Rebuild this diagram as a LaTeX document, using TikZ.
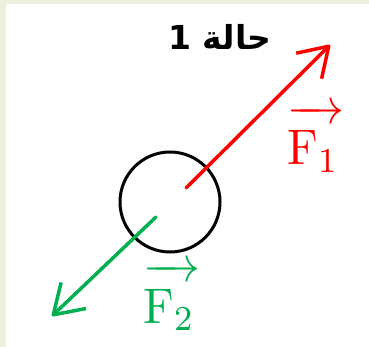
\documentclass[tikz,border=0pt]{standalone}
\usepackage{amsmath}
\usepackage{graphicx}
\usepackage{fontspec}
\usetikzlibrary{arrows.meta}
\newfontfamily\arabicfont[Script=Arabic]{DejaVu Sans}
\TeXXeTstate=1
\definecolor{forcered}{RGB}{255,0,0}
\definecolor{forcegreen}{RGB}{0,176,80}
\definecolor{framegreen}{RGB}{235,241,222}

\begin{document}
\begin{tikzpicture}[x=1pt, y=-1pt]

    % Define styles
    \tikzstyle{body} = [circle, draw=black, line width=3pt, minimum size=100pt, inner sep=0pt]
    \tikzstyle{force} = [line width=3.5pt, line cap=round, -{Straight Barb[length=28pt,width=36pt,line join=round]}]
    \tikzstyle{flabel} = [inner sep=0pt, anchor=base west]

    % Frame
    \fill[framegreen] (0,0) rectangle (369,347);
    \fill[white] (6,4) rectangle (369,347);
    \useasboundingbox (0,0) rectangle (369,347);

    % Nodes
    \node[body] (ball) at (170,202) {};
    \node[font=\arabicfont\bfseries\fontsize{33}{38}\selectfont, inner sep=0pt] (title) at (220,37) {\beginR حالة 1\endR};
    \coordinate (f1start) at (186,188);
    \coordinate (f1end) at (330,45);
    \coordinate (f2start) at (156,217);
    \coordinate (f2end) at (52,316);
    \node[flabel, text=forcered] (f1) at (287,165) {\scalebox{4.7}[5.0]{$\overrightarrow{\mathrm{F}_1\mkern2mu\rule{0pt}{8.3pt}}$}};
    \node[flabel, text=forcegreen] (f2) at (143,323) {\scalebox{4.7}[5.0]{$\overrightarrow{\mathrm{F}_2\mkern2mu\rule{0pt}{8.3pt}}$}};

    % Arrows
    \draw[force, forcered] (f1start) -- (f1end);
    \draw[force, forcegreen] (f2start) -- (f2end);

\end{tikzpicture}
\end{document}
